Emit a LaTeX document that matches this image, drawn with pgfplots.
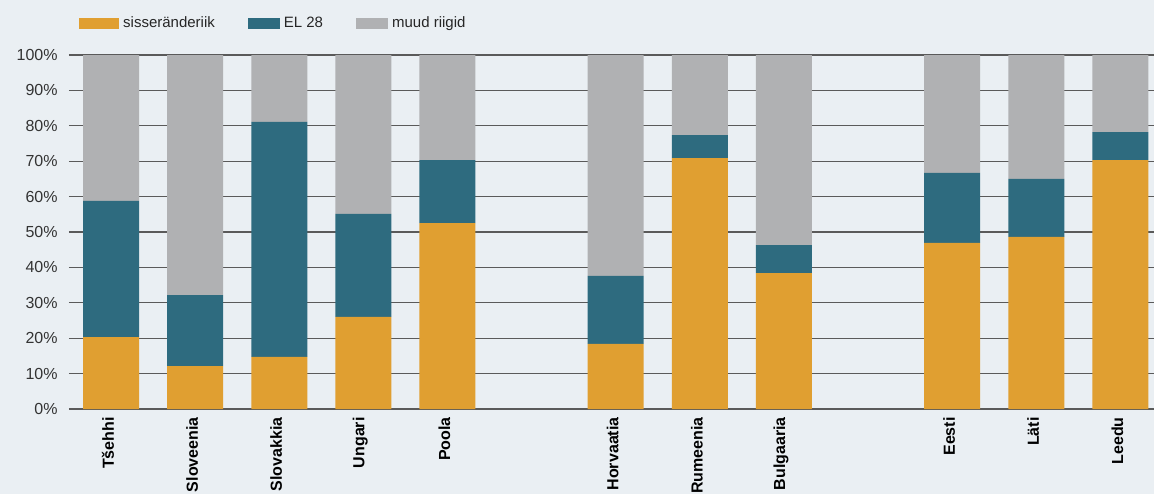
\documentclass[border=0pt]{standalone}
\usepackage{fontspec}
\setmainfont{Liberation Sans}
\usepackage{pgfplots}
\pgfplotsset{compat=1.18}
\usepackage{pgfplotstable}

\definecolor{bgc}{HTML}{EAEFF3}
\definecolor{orangec}{HTML}{E09F31}
\definecolor{tealc}{HTML}{2E6B7F}
\definecolor{grayc}{HTML}{B0B1B3}
\definecolor{gridc}{HTML}{5A5A5A}

% x, sisseranderiik, EL 28, muud riigid
\pgfplotstableread{
x  a     b     c
0  20.3  38.5  41.2
1  12.1  20.1  67.8
2  14.7  66.4  18.9
3  26.0  29.1  44.9
4  52.5  17.8  29.7
6  18.4  19.2  62.4
7  70.9  6.5   22.6
8  38.4  7.9   53.7
10 46.9  19.8  33.3
11 48.6  16.4  35.0
12 70.3  7.9   21.8
}\datatable

\begin{document}
\fontsize{7.5}{9}\selectfont
\begin{tikzpicture}
\fill[bgc] (-34.5pt,-42.5pt) rectangle (542.5pt,204.5pt);
\begin{axis}[
  at={(0,0)}, anchor=south west,
  scale only axis,
  width=542.5pt, height=177pt,
  ybar stacked, bar width=28pt,
  xmin=-0.5, xmax=12.4,
  ymin=0, ymax=100,
  xtick={0,1,2,3,4,6,7,8,10,11,12},
  xticklabels={Tšehhi,Sloveenia,Slovakkia,Ungari,Poola,Horvaatia,Rumeenia,Bulgaaria,Eesti,Läti,Leedu},
  x tick label style={rotate=90, anchor=east, font=\fontsize{8}{9}\selectfont\bfseries, text=black, xshift=-1.5pt, yshift=1.5pt},
  ytick={0,10,...,100},
  yticklabel={\pgfmathprintnumber{\tick}\%},
  y tick label style={font=\fontsize{8}{9}\selectfont, text=black!80, xshift=-3pt},
  /pgf/number format/assume math mode=true,
  major tick length=0pt,
  axis line style={draw=none},
  ymajorgrids,
  grid style={draw=gridc, line width=0.6pt},
  legend columns=3,
  legend cell align=left,
  legend style={at={(0.0035,1.089)}, anchor=west, draw=none, fill=none,
    font=\fontsize{7.5}{9}\selectfont, text=black!85,
    /tikz/every even column/.append style={column sep=14.5pt}},
]
\addplot[fill=orangec, draw=none,
  legend image code/.code={\fill[orangec] (0pt,-2.85pt) rectangle (20pt,2.85pt);}]
  table[x=x, y=a] {\datatable};
\addlegendentry{sisseränderiik}
\addplot[fill=tealc, draw=none,
  legend image code/.code={\fill[tealc] (0pt,-2.85pt) rectangle (16pt,2.85pt);}]
  table[x=x, y=b] {\datatable};
\addlegendentry{EL 28}
\addplot[fill=grayc, draw=none,
  legend image code/.code={\fill[grayc] (0pt,-2.85pt) rectangle (16pt,2.85pt);}]
  table[x=x, y=c] {\datatable};
\addlegendentry{muud riigid}
\end{axis}
\pgfresetboundingbox
\useasboundingbox (-34.5pt,-42.5pt) rectangle (542.5pt,204.5pt);
\end{tikzpicture}
\end{document}
